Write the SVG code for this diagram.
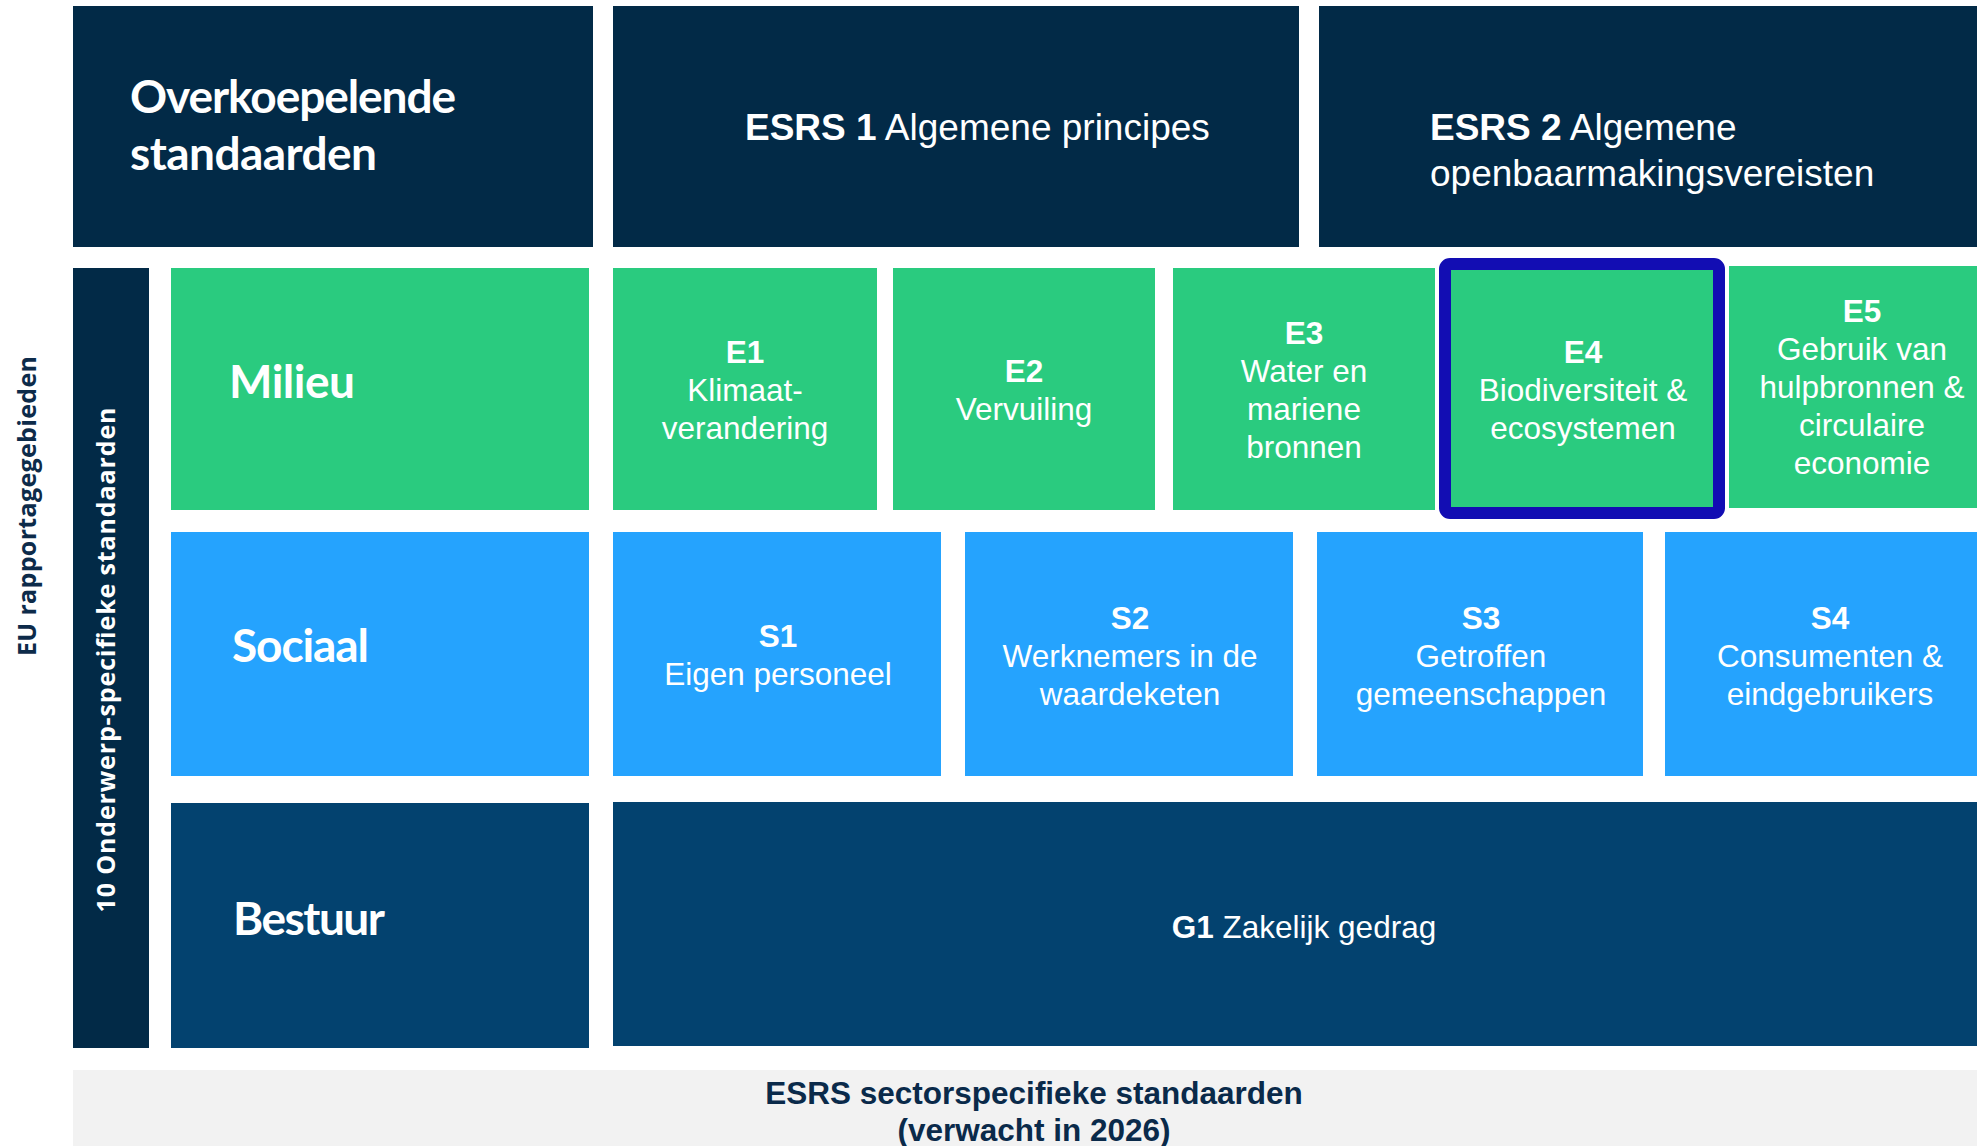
<svg xmlns="http://www.w3.org/2000/svg" width="1977" height="1146" viewBox="0 0 1977 1146">
<style>
.navy{fill:#022a47}
.green{fill:#2acb7f}
.blue{fill:#25a3fe}
.gov{fill:#03426f}
.grey{fill:#f2f2f2}
.head{font-family:Lato,"Open Sans",sans-serif;font-weight:700;font-size:46px;fill:#ffffff}
.t{font-family:"Liberation Sans",Arial,sans-serif;font-size:31.5px;fill:#ffffff;text-anchor:middle}
.tl{font-family:"Liberation Sans",Arial,sans-serif;font-size:37px;fill:#ffffff}
.b{font-weight:700}
.rot{font-family:"Open Sans",sans-serif;font-weight:700;font-size:25px;text-anchor:middle}
.foot{font-family:"Liberation Sans",Arial,sans-serif;font-weight:700;font-size:31.5px;fill:#0a2a4a;text-anchor:middle}
</style>
<rect width="1977" height="1146" fill="#ffffff"/>

<g id="side-labels">
  <text class="rot" fill="#0d2b4a" transform="translate(36,506) rotate(-90)" textLength="300">EU rapportagegebieden</text>
  <rect class="navy" x="73" y="268" width="76" height="780"/>
  <text class="rot" fill="#ffffff" transform="translate(115,660) rotate(-90)" textLength="505">10 Onderwerp-specifieke standaarden</text>
</g>

<g id="overkoepelende">
  <rect class="navy" x="73" y="6" width="520" height="241"/>
  <text class="head" x="130" y="113" textLength="326">Overkoepelende</text>
  <text class="head" x="130" y="170" textLength="247">standaarden</text>
</g>
<g id="esrs1">
  <rect class="navy" x="613" y="6" width="686" height="241"/>
  <text class="tl" x="745" y="140"><tspan class="b">ESRS 1</tspan> Algemene principes</text>
</g>
<g id="esrs2">
  <rect class="navy" x="1319" y="6" width="680" height="241"/>
  <text class="tl" x="1430" y="140"><tspan class="b">ESRS 2</tspan> Algemene</text>
  <text class="tl" x="1430" y="186">openbaarmakingsvereisten</text>
</g>

<g id="milieu">
  <rect class="green" x="171" y="268" width="418" height="242"/>
  <text class="head" x="229" y="398" textLength="126">Milieu</text>
</g>
<g id="e1">
  <rect class="green" x="613" y="268" width="264" height="242"/>
  <text class="t" x="745" y="363"><tspan class="b">E1</tspan><tspan x="745" dy="38">Klimaat-</tspan><tspan x="745" dy="38">verandering</tspan></text>
</g>
<g id="e2">
  <rect class="green" x="893" y="268" width="262" height="242"/>
  <text class="t" x="1024" y="382"><tspan class="b">E2</tspan><tspan x="1024" dy="38">Vervuiling</tspan></text>
</g>
<g id="e3">
  <rect class="green" x="1173" y="268" width="262" height="242"/>
  <text class="t" x="1304" y="344"><tspan class="b">E3</tspan><tspan x="1304" dy="38">Water en</tspan><tspan x="1304" dy="38">mariene</tspan><tspan x="1304" dy="38">bronnen</tspan></text>
</g>
<g id="e4">
  <rect class="green" x="1445" y="264" width="274" height="249"/>
  <rect x="1445" y="264" width="274" height="249" rx="5" fill="none" stroke="#120db3" stroke-width="12"/>
  <text class="t" x="1583" y="363"><tspan class="b">E4</tspan><tspan x="1583" dy="38">Biodiversiteit &amp;</tspan><tspan x="1583" dy="38">ecosystemen</tspan></text>
</g>
<g id="e5">
  <rect class="green" x="1729" y="266" width="270" height="242"/>
  <text class="t" x="1862" y="322"><tspan class="b">E5</tspan><tspan x="1862" dy="38">Gebruik van</tspan><tspan x="1862" dy="38">hulpbronnen &amp;</tspan><tspan x="1862" dy="38">circulaire</tspan><tspan x="1862" dy="38">economie</tspan></text>
</g>

<g id="sociaal">
  <rect class="blue" x="171" y="532" width="418" height="244"/>
  <text class="head" x="232" y="662" textLength="137">Sociaal</text>
</g>
<g id="s1">
  <rect class="blue" x="613" y="532" width="328" height="244"/>
  <text class="t" x="778" y="647"><tspan class="b">S1</tspan><tspan x="778" dy="38">Eigen personeel</tspan></text>
</g>
<g id="s2">
  <rect class="blue" x="965" y="532" width="328" height="244"/>
  <text class="t" x="1130" y="629"><tspan class="b">S2</tspan><tspan x="1130" dy="38">Werknemers in de</tspan><tspan x="1130" dy="38">waardeketen</tspan></text>
</g>
<g id="s3">
  <rect class="blue" x="1317" y="532" width="326" height="244"/>
  <text class="t" x="1481" y="629"><tspan class="b">S3</tspan><tspan x="1481" dy="38">Getroffen</tspan><tspan x="1481" dy="38">gemeenschappen</tspan></text>
</g>
<g id="s4">
  <rect class="blue" x="1665" y="532" width="334" height="244"/>
  <text class="t" x="1830" y="629"><tspan class="b">S4</tspan><tspan x="1830" dy="38">Consumenten &amp;</tspan><tspan x="1830" dy="38">eindgebruikers</tspan></text>
</g>

<g id="bestuur">
  <rect class="gov" x="171" y="803" width="418" height="245"/>
  <text class="head" x="233" y="935" textLength="152">Bestuur</text>
</g>
<g id="g1">
  <rect class="gov" x="613" y="802" width="1386" height="244"/>
  <text class="t" x="1304" y="938"><tspan class="b">G1</tspan> Zakelijk gedrag</text>
</g>

<g id="sector">
  <rect class="grey" x="73" y="1070" width="1926" height="80"/>
  <text class="foot" x="1034" y="1104">ESRS sectorspecifieke standaarden</text>
  <text class="foot" x="1034" y="1141">(verwacht in 2026)</text>
</g>

<g id="connectors"></g>
</svg>
